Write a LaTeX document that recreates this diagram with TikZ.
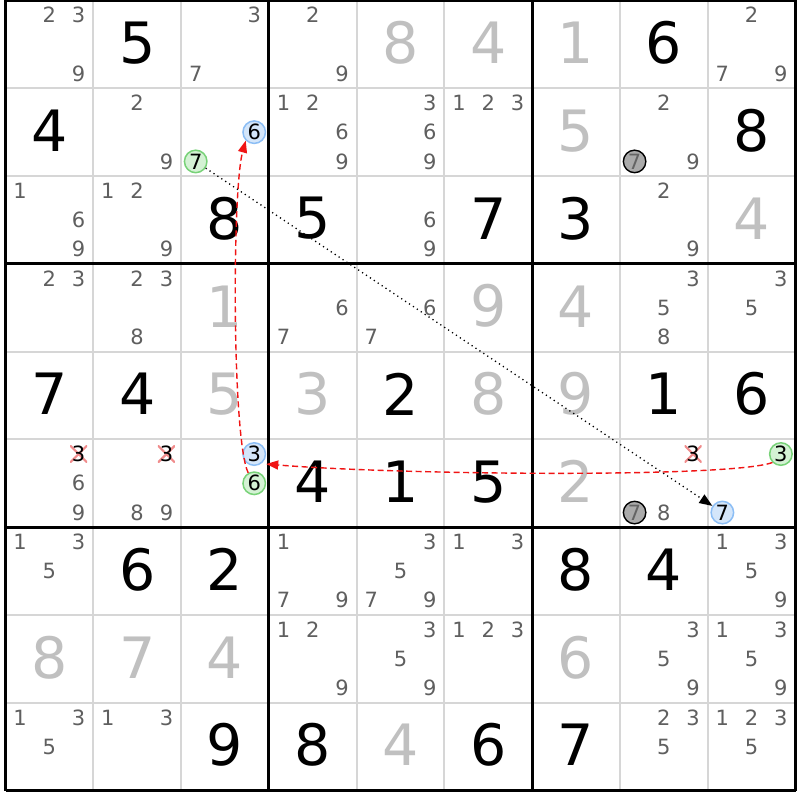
\documentclass[tikz,border=0pt]{standalone}
\usepackage{fontspec}
\setmainfont{DejaVu Sans}
\usetikzlibrary{arrows.meta}
\definecolor{candc}{RGB}{95,95,95}
\definecolor{solvc}{RGB}{192,192,192}
\definecolor{thinc}{RGB}{214,214,214}
\definecolor{bluef}{RGB}{212,230,250}
\definecolor{blued}{RGB}{140,190,245}
\definecolor{greenf}{RGB}{212,242,212}
\definecolor{greend}{RGB}{120,210,120}
\definecolor{greyf}{RGB}{170,170,170}
\definecolor{greyt}{RGB}{100,100,100}
\definecolor{xred}{RGB}{240,140,140}
\definecolor{arrred}{RGB}{240,20,20}
\def\CS{87.78}
\tikzset{
  given/.style={inner sep=0pt, font=\fontsize{57}{60}\selectfont, text=black},
  solved/.style={inner sep=0pt, font=\fontsize{57}{60}\selectfont, text=solvc},
  cand/.style={inner sep=0pt, font=\fontsize{21}{23}\selectfont, text=candc},
  bluec/.style={cand, circle, minimum size=22.5pt, draw=blued, fill=bluef, line width=1.5pt, text=black},
  greenc/.style={cand, circle, minimum size=22.5pt, draw=greend, fill=greenf, line width=1.5pt, text=black},
  greyc/.style={cand, circle, minimum size=22.5pt, draw=black, fill=greyf, line width=1.4pt, text=greyt},
  xc/.style={cand, minimum size=17pt, text=black, path picture={
     \draw[xred, line width=2.2pt] (path picture bounding box.south west) -- (path picture bounding box.north east)
       (path picture bounding box.north west) -- (path picture bounding box.south east);}},
  redarrow/.style={arrred, line width=1.4pt, dash pattern=on 6pt off 3.5pt, -{Triangle[length=12pt,width=9pt]}},
  dotarrow/.style={black, line width=1.3pt, dash pattern=on 1.2pt off 3.5pt, -{Triangle[length=13pt,width=10pt]}},
  thinline/.style={thinc, line width=2pt},
  thickline/.style={black, line width=3pt}
}
\newcommand\givenD[3]{\node[given] (v#1#2) at ({5.5+(#2-0.5)*\CS},{0.5+(#1-0.5)*\CS-1.5}) {#3};}
\newcommand\solvedD[3]{\node[solved] (v#1#2) at ({5.5+(#2-0.5)*\CS},{0.5+(#1-0.5)*\CS-1.5}) {#3};}
\newcommand\candD[3]{\foreach \dd in {#3}{%
  \pgfmathsetmacro\cx{5.5+(#2-1)*\CS+\CS/6+mod(\dd-1,3)*\CS/3}%
  \pgfmathsetmacro\cy{0.5+(#1-1)*\CS+\CS/6+int((\dd-1)/3)*\CS/3}%
  \node[cand] (c#1#2\dd) at (\cx,\cy) {\dd};}}
\newcommand\candS[5]{%
  \pgfmathsetmacro\cx{5.5+(#4-1)*\CS+\CS/6+mod(#5-1,3)*\CS/3}%
  \pgfmathsetmacro\cy{0.5+(#3-1)*\CS+\CS/6+int((#5-1)/3)*\CS/3}%
  \node[#1] (#2) at (\cx,\cy) {#5};}
\begin{document}
\begin{tikzpicture}[x=1pt,y=-1pt]
\useasboundingbox (0,0) rectangle (800,800);
\fill[white] (0,0) rectangle (800,800);
% grid
\foreach \i in {1,2,4,5,7,8}{
  \draw[thinline] ({5.5+\i*\CS},0.5) -- ({5.5+\i*\CS},790.5);
  \draw[thinline] (5.5,{0.5+\i*\CS}) -- (795.5,{0.5+\i*\CS});
}
\foreach \i in {0,3,6,9}{
  \draw[thickline] ({5.5+\i*\CS},0.5) -- ({5.5+\i*\CS},790.5);
  \draw[thickline] (5.5,{0.5+\i*\CS}) -- (795.5,{0.5+\i*\CS});
}
% givens
\givenD{1}{2}{5} \givenD{1}{8}{6}
\givenD{2}{1}{4} \givenD{2}{9}{8}
\givenD{3}{3}{8} \givenD{3}{4}{5} \givenD{3}{6}{7} \givenD{3}{7}{3}
\givenD{5}{1}{7} \givenD{5}{2}{4} \givenD{5}{5}{2} \givenD{5}{8}{1} \givenD{5}{9}{6}
\givenD{6}{4}{4} \givenD{6}{5}{1} \givenD{6}{6}{5}
\givenD{7}{2}{6} \givenD{7}{3}{2} \givenD{7}{7}{8} \givenD{7}{8}{4}
\givenD{9}{3}{9} \givenD{9}{4}{8} \givenD{9}{6}{6} \givenD{9}{7}{7}
% solved
\solvedD{1}{5}{8} \solvedD{1}{6}{4} \solvedD{1}{7}{1}
\solvedD{2}{7}{5} \solvedD{3}{9}{4}
\solvedD{4}{3}{1} \solvedD{4}{6}{9} \solvedD{4}{7}{4}
\solvedD{5}{3}{5} \solvedD{5}{4}{3} \solvedD{5}{6}{8} \solvedD{5}{7}{9}
\solvedD{6}{7}{2}
\solvedD{8}{1}{8} \solvedD{8}{2}{7} \solvedD{8}{3}{4} \solvedD{8}{7}{6}
\solvedD{9}{5}{4}
% candidates
\candD{1}{1}{2,3,9} \candD{1}{3}{3,7} \candD{1}{4}{2,9} \candD{1}{9}{2,7,9}
\candD{2}{2}{2,9} \candD{2}{4}{1,2,6,9} \candD{2}{5}{3,6,9} \candD{2}{6}{1,2,3} \candD{2}{8}{2,9}
\candD{3}{1}{1,6,9} \candD{3}{2}{1,2,9} \candD{3}{5}{6,9} \candD{3}{8}{2,9}
\candD{4}{1}{2,3} \candD{4}{2}{2,3,8} \candD{4}{4}{6,7} \candD{4}{5}{6,7} \candD{4}{8}{3,5,8} \candD{4}{9}{3,5}
\candD{6}{1}{6,9} \candD{6}{2}{8,9} \candD{6}{8}{8}
\candD{7}{1}{1,3,5} \candD{7}{4}{1,7,9} \candD{7}{5}{3,5,7,9} \candD{7}{6}{1,3} \candD{7}{9}{1,3,5,9}
\candD{8}{4}{1,2,9} \candD{8}{5}{3,5,9} \candD{8}{6}{1,2,3} \candD{8}{8}{3,5,9} \candD{8}{9}{1,3,5,9}
\candD{9}{1}{1,3,5} \candD{9}{2}{1,3} \candD{9}{8}{2,3,5} \candD{9}{9}{1,2,3,5}
% special candidates
\candS{bluec}{b6}{2}{3}{6}
\candS{greenc}{g7}{2}{3}{7}
\candS{greyc}{k1}{2}{8}{7}
\candS{bluec}{b3}{6}{3}{3}
\candS{greenc}{g6}{6}{3}{6}
\candS{greenc}{g3}{6}{9}{3}
\candS{bluec}{b7}{6}{9}{7}
\candS{greyc}{k2}{6}{8}{7}
\candS{xc}{x1}{6}{1}{3}
\candS{xc}{x2}{6}{2}{3}
\candS{xc}{x3}{6}{8}{3}
% connectors
\draw[redarrow] (g6.120) .. controls (232,440) and (232,190) .. (b6.225);
\draw[redarrow] (g3.225) .. controls (730,478) and (400,475) .. ([shift={(12,10)}]b3.center);
\draw[dotarrow] (g7) -- (b7);
\end{tikzpicture}
\end{document}
